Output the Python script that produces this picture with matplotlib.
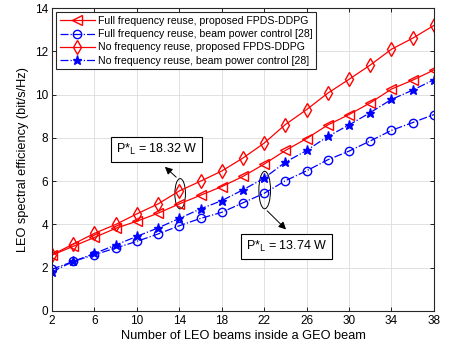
import numpy as np
import matplotlib.pyplot as plt
from matplotlib.patches import Ellipse

plt.rcParams['font.family'] = ['Liberation Sans', 'DejaVu Sans']

### Data
n_beams = [2, 4, 6, 8, 10, 12, 14, 16, 18, 20, 22, 24, 26, 28, 30, 32, 34, 36, 38]

full_fpds = [2.58, 2.99, 3.40, 3.82, 4.15, 4.52, 4.95, 5.35, 5.75, 6.22,
             6.79, 7.42, 7.97, 8.60, 9.08, 9.62, 10.26, 10.67, 11.14]
full_bpc = [1.93, 2.29, 2.60, 2.91, 3.22, 3.56, 3.94, 4.28, 4.56, 5.00,
            5.44, 6.02, 6.48, 6.99, 7.39, 7.86, 8.35, 8.71, 9.08]
no_fpds = [2.60, 3.09, 3.59, 4.00, 4.49, 4.95, 5.55, 6.00, 6.47, 7.07,
           7.76, 8.62, 9.31, 10.07, 10.71, 11.37, 12.10, 12.61, 13.20]
no_bpc = [1.81, 2.29, 2.66, 3.05, 3.45, 3.84, 4.28, 4.72, 5.10, 5.60,
          6.14, 6.88, 7.42, 8.07, 8.60, 9.17, 9.78, 10.21, 10.69]

labels = ['Full frequency reuse, proposed FPDS-DDPG',
          'Full frequency reuse, beam power control [28]',
          'No frequency reuse, proposed FPDS-DDPG',
          'No frequency reuse, beam power control [28]']
xticks = [2, 6, 10, 14, 18, 22, 26, 30, 34, 38]
yticks = [0, 2, 4, 6, 8, 10, 12, 14]

### Figure
fig = plt.figure(figsize=(4.59, 3.54), dpi=100)
ax = fig.add_axes([0.1133, 0.1215, 0.832, 0.8555])

ax.plot(n_beams, full_fpds, '-', color='red', marker='<', mfc='none', ms=6.5, lw=0.9, label=labels[0])
ax.plot(n_beams, full_bpc, '-.', color='blue', marker='o', mfc='none', ms=6, lw=0.9, label=labels[1])
ax.plot(n_beams, no_fpds, '-', color='red', marker='d', mfc='none', ms=7, lw=0.9, label=labels[2])
ax.plot(n_beams, no_bpc, '-.', color='blue', marker='*', ms=6.5, lw=0.9, label=labels[3])

ax.set_xlim(2, 38)
ax.set_ylim(0, 14)
ax.set_xticks(xticks)
ax.set_yticks(yticks)
ax.tick_params(direction='in', top=True, right=True, labelsize=8.5, length=3, width=0.6, pad=3)
ax.grid(True, color='#dcdcdc', lw=0.6)
ax.set_axisbelow(True)
for s in ax.spines.values():
    s.set_linewidth(0.8)
    s.set_color('#262626')

ax.set_xlabel('Number of LEO beams inside a GEO beam', fontsize=9.2, labelpad=2)
ax.set_ylabel('LEO spectral efficiency (bit/s/Hz)', fontsize=9.2, labelpad=4)

leg = ax.legend(loc='upper left', fontsize=7.6, fancybox=False, framealpha=1,
                edgecolor='#262626', borderpad=0.35, labelspacing=0.3,
                handlelength=3.3, handletextpad=0.3, borderaxespad=0.4)
leg.get_frame().set_linewidth(0.8)

### Ellipses and annotations
ax.add_patch(Ellipse((14.08, 5.42), 1.0, 1.4, fill=False, color='black', lw=0.7))
ax.add_patch(Ellipse((22.05, 5.59), 1.1, 1.73, fill=False, color='black', lw=0.7))

box = dict(boxstyle='square,pad=0.4', fc='white', ec='black', lw=0.8)
ax.text(11.87, 7.48, 'P*$_\\mathrm{L}$ = 18.32 W', fontsize=9, ha='center', va='center', bbox=box)
ax.text(24.12, 3.0, 'P*$_\\mathrm{L}$ = 13.74 W', fontsize=9, ha='center', va='center', bbox=box)

ax.annotate('', xy=(12.45, 6.75), xytext=(13.9, 6.1),
            arrowprops=dict(arrowstyle='-|>', color='black', lw=0.7, mutation_scale=11))
ax.annotate('', xy=(24.25, 3.68), xytext=(22.1, 4.72),
            arrowprops=dict(arrowstyle='-|>', color='black', lw=0.7, mutation_scale=11))

fig.savefig('out.png', dpi=100)
